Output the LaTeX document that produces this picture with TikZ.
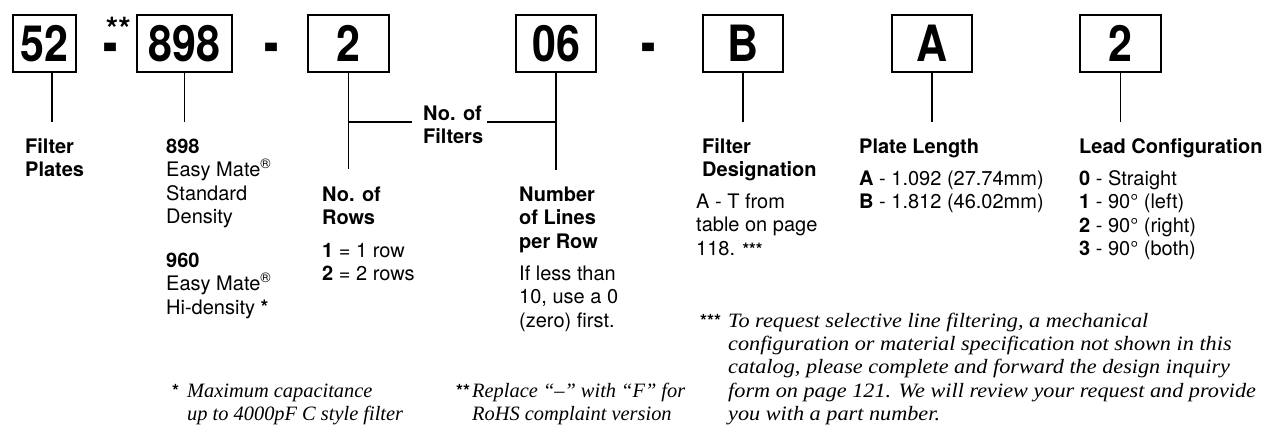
\documentclass[tikz,border=0pt]{standalone}
\usepackage{fontspec}
\usepackage{graphicx}
\setmainfont{TeX Gyre Heros}
\newfontfamily\fnfont{Liberation Serif}
\newfontfamily\fnwidefont[FakeStretch=1.09]{Liberation Serif}
\newcommand{\mylines}[1]{\vtop{\halign{##\hfil\cr#1\crcr}}}
\newcommand{\boxnum}[1]{\scalebox{0.86}[1]{\bfseries #1}}
\newcommand{\bigdash}{\scalebox{0.9}[1.3]{-}}
\begin{document}
\begin{tikzpicture}[x=1pt,y=-1pt,
  pbox/.style={draw, line width=2pt, minimum height=57pt, inner sep=0pt, font=\fontsize{50}{50}\selectfont},
  dashnode/.style={anchor=base, inner sep=0pt, font=\bfseries\fontsize{48}{48}\selectfont},
  conn/.style={line width=1.8pt},
  lbl/.style={anchor=base west, inner sep=0pt, font=\fontsize{20}{23.5}\selectfont},
  lblb/.style={lbl, font=\bfseries\fontsize{20}{23.5}\selectfont},
  fn/.style={anchor=base west, inner sep=0pt, font=\fnfont\itshape\fontsize{20.4}{23.4}\selectfont},
  fnw/.style={fn, font=\fnwidefont\itshape\fontsize{20.4}{23.4}\selectfont},
  star/.style={anchor=base west, inner sep=0pt, font=\bfseries\fontsize{18}{18}\selectfont},
]
\path[use as bounding box] (0,0) rectangle (1267,429);

% boxes
\node[pbox, minimum width=63pt] (b52) at (44.5,43.5) {\boxnum{52}};
\node[pbox, minimum width=95pt] (b898) at (184.5,43.5) {\boxnum{898}};
\node[pbox, minimum width=81pt] (b2) at (348.5,43.5) {\boxnum{2}};
\node[pbox, minimum width=80pt] (b06) at (556,43.5) {\boxnum{06}};
\node[pbox, minimum width=80pt] (bB) at (743,43.5) {\boxnum{B}};
\node[pbox, minimum width=80pt] (bA) at (932,43.5) {\boxnum{A}};
\node[pbox, minimum width=81pt] (bL) at (1120.5,43.5) {\boxnum{2}};

% dashes (the first one carries the ** mark)
\node[dashnode] (d1) at (111,64.5) {\rlap{\hspace{2pt}\raisebox{24pt}{\fontsize{32}{32}\selectfont **}}\bigdash};
\node[dashnode] (d2) at (272,64.5) {\bigdash};
\node[dashnode] (d3) at (649,64.5) {\bigdash};

% connector ends
\coordinate (c52) at (52,122);
\coordinate (c898) at (184.5,122);
\coordinate (c2) at (348.5,169);
\coordinate (h2a) at (348.5,122);
\coordinate (h2b) at (412,122);
\coordinate (c06) at (556,170);
\coordinate (h6a) at (487,122);
\coordinate (h6b) at (556,122);
\coordinate (cB) at (743,122);
\coordinate (cA) at (932,122);
\coordinate (cL) at (1120.5,122);

\draw[conn] (b52.south -| c52) -- (c52);
\draw[conn] (b898.south) -- (c898);
\draw[conn] (b2.south) -- (c2);
\draw[conn] (h2a) -- (h2b);
\draw[conn] (b06.south) -- (c06);
\draw[conn] (h6a) -- (h6b);
\draw[conn] (bB.south) -- (cB);
\draw[conn] (bA.south) -- (cA);
\draw[conn] (bL.south) -- (cL);

% labels
\node[lblb] (fp) at (25,153) {\mylines{Filter\cr Plates}};
\node[lbl] (t898) at (166,153) {\mylines{\textbf{898}\cr Easy Mate\textsuperscript{®}\cr Standard\cr Density}};
\node[lbl] (t960) at (166,267) {\mylines{\textbf{960}\cr Easy Mate\textsuperscript{®}\cr Hi-density \textbf{*}}};
\node[lblb] (rowsh) at (322,201) {\mylines{No. of\cr Rows}};
\node[lbl] (rowsv) at (322,257) {\mylines{\textbf{1} = 1 row\cr \textbf{2} = 2 rows}};
\node[lblb] (nf) at (423,120) {\mylines{No. of\cr Filters}};
\node[lblb] (nl) at (519,201) {\mylines{Number\cr of Lines\cr per Row}};
\node[lbl] (nlv) at (519,280) {\mylines{If less than\cr 10, use a 0\cr (zero) first.}};
\node[lblb] (fd) at (702,153) {\mylines{Filter\cr Designation}};
\node[lbl] (fdv) at (696,208) {\mylines{A - T from\cr table on page\cr 118. {\bfseries\fontsize{17}{17}\selectfont ***}}};
\node[lblb] (pl) at (859,153) {Plate Length};
\node[lbl] (plv) at (859,185) {\mylines{\textbf{A} - 1.092 (27.74mm)\cr \textbf{B} - 1.812 (46.02mm)}};
\node[lblb] (lc) at (1079,153) {Lead Configuration};
\node[lbl] (lcv) at (1079,185) {\mylines{\textbf{0} - Straight\cr \textbf{1} - 90° (left)\cr \textbf{2} - 90° (right)\cr \textbf{3} - 90° (both)}};

% footnotes
\node[star] (fn1s) at (172,397.5) {*};
\node[fn] (fn1) at (187,397.5) {\mylines{Maximum capacitance\cr up to 4000pF C style filter}};
\node[star] (fn2s) at (456,397.5) {**};
\node[fn] (fn2) at (472,397.5) {\mylines{Replace “–” with “F” for\cr RoHS complaint version}};
\node[star] (fn3s) at (700,327) {***};
\node[fnw] (fn3) at (728,327) {\mylines{To request selective line filtering, a mechanical\cr configuration or material specification not shown in this\cr catalog, please complete and forward the design inquiry\cr form on page 121. We will review your request and provide\cr you with a part number.}};
\end{tikzpicture}
\end{document}
